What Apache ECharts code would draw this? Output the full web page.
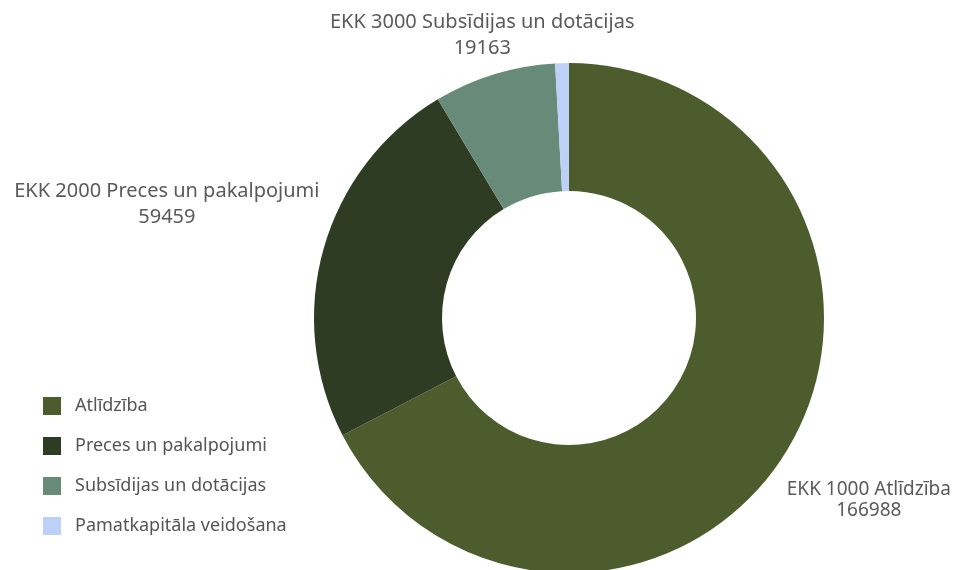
<!DOCTYPE html>
<html>
<head>
<meta charset="utf-8">
<script src="https://cdn.jsdelivr.net/npm/echarts@6/dist/echarts.min.js"></script>
<style>
  html, body { margin: 0; padding: 0; background: #fff; }
  #chart { width: 971px; height: 570px; }
</style>
</head>
<body>
<div id="chart"></div>
<script>
// categories and values (EKK codes)
var names = ['Atlīdzība', 'Preces un pakalpojumi', 'Subsīdijas un dotācijas', 'Pamatkapitāla veidošana'];
var labelNames = ['EKK 1000 Atlīdzība', 'EKK 2000 Preces un pakalpojumi', 'EKK 3000 Subsīdijas un dotācijas', ''];
var values = [166988, 59459, 19163, 2150];
var colors = ['#4c5c2c', '#2d3c23', '#688a79', '#bcd0f8'];

var cx = 569, cy = 318;
// distance from centre to label centre, per slice
var labelDist = [351, 418, 296, 0];

var total = values.reduce(function (a, b) { return a + b; }, 0);
// mid angle of each slice, clockwise from 12 o'clock
var midAngles = [];
var acc = 0;
values.forEach(function (v) {
  midAngles.push((acc + v / 2) / total * Math.PI * 2);
  acc += v;
});

var chart = echarts.init(document.getElementById('chart'));
var option = {
  color: colors,
  legend: {
    orient: 'vertical',
    left: 38,
    top: 392,
    icon: 'rect',
    itemWidth: 18,
    itemHeight: 18,
    itemGap: 22,
    textStyle: {
      color: '#555',
      fontSize: 18,
      fontFamily: 'Noto Sans',
      padding: [0, 0, 0, 9]
    },
    data: names
  },
  series: [{
    type: 'pie',
    center: [cx, cy],
    radius: [127, 255],
    startAngle: 90,
    clockwise: true,
    avoidLabelOverlap: false,
    label: {
      show: true,
      position: 'outside',
      color: '#5a5a5a',
      fontSize: 20,
      lineHeight: 26,
      fontFamily: 'Noto Sans',
      formatter: function (p) {
        if (!labelNames[p.dataIndex]) return '';
        return labelNames[p.dataIndex] + '\n' + p.value;
      }
    },
    labelLine: { show: false },
    labelLayout: function (p) {
      var i = p.dataIndex;
      var a = midAngles[i];
      return {
        x: cx + Math.sin(a) * labelDist[i],
        y: cy - Math.cos(a) * labelDist[i],
        align: 'center',
        verticalAlign: 'middle'
      };
    },
    emphasis: { disabled: true },
    data: names.map(function (n, i) {
      var item = { name: n, value: values[i] };
      if (i === 0) item.label = { fontSize: 19, lineHeight: 21 };
      return item;
    })
  }]
};
chart.setOption(option);
</script>
</body>
</html>
